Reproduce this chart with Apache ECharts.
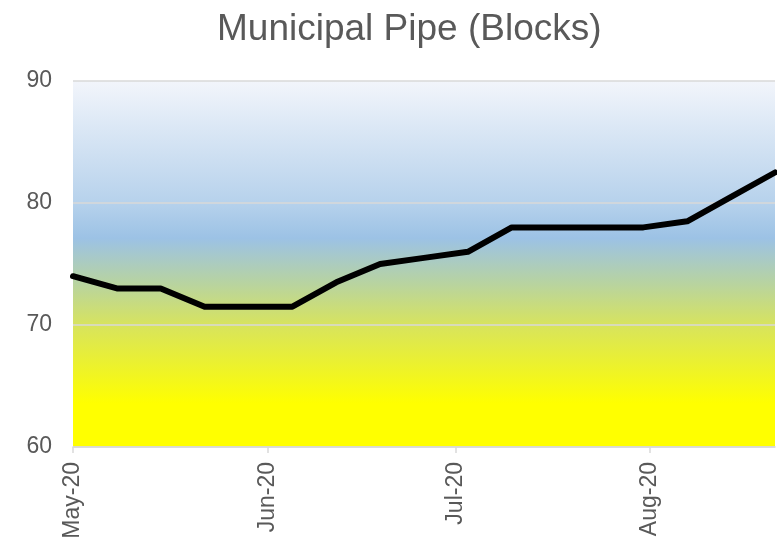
<!DOCTYPE html>
<html>
<head>
<meta charset="utf-8">
<script src="https://cdn.jsdelivr.net/npm/echarts@6/dist/echarts.min.js"></script>
<style>
html,body{margin:0;padding:0;background:#fff;}
#c{width:777px;height:542px;}
</style>
</head>
<body>
<div id="c"></div>
<script>
const titleText = 'Municipal Pipe (Blocks)';
const dates = ['2020-05-01','2020-05-08','2020-05-15','2020-05-22','2020-05-29','2020-06-05','2020-06-12','2020-06-19','2020-06-26','2020-07-03','2020-07-10','2020-07-17','2020-07-24','2020-07-31','2020-08-07','2020-08-14','2020-08-21'];
const values = [74, 73, 73, 71.5, 71.5, 71.5, 73.5, 75, 75.5, 76, 78, 78, 78, 78, 78.5, 80.5, 82.5];
const monthTicks = ['2020-05-01','2020-06-01','2020-07-01','2020-08-01'];
const monthLabels = ['May-20','Jun-20','Jul-20','Aug-20'];
const yMin = 60, yMax = 90, yStep = 10;

const DAY = 86400000;
function ts(s){ const p = s.split('-').map(Number); return Date.UTC(p[0], p[1]-1, p[2]); }
const t0 = ts(dates[0]);
function dayOf(s){ return Math.round((ts(s) - t0) / DAY); }

const tickVals = monthTicks.map(dayOf);
const chart = echarts.init(document.getElementById('c'));
chart.setOption({
  animation: false,
  title: {
    text: titleText,
    left: 212,
    top: 6,
    textStyle: {fontFamily: 'Liberation Sans, Arial, sans-serif', fontSize: 37, fontWeight: 'normal', color: '#595959'}
  },
  grid: {
    left: 73, right: 2, top: 81, bottom: 95,
    show: true, borderWidth: 0,
    backgroundColor: new echarts.graphic.LinearGradient(0, 0, 0, 1, [
      {offset: 0, color: '#f2f5fb'},
      {offset: 0.33, color: '#b7d2ec'},
      {offset: 0.43, color: '#9cc2e5'},
      {offset: 0.55, color: '#b7d3a2'},
      {offset: 0.67, color: '#d8e45c'},
      {offset: 0.88, color: '#ffff00'},
      {offset: 1, color: '#ffff00'}
    ])
  },
  xAxis: {
    type: 'value',
    min: 0,
    max: dayOf(dates[dates.length-1]),
    axisLine: {show: true, lineStyle: {color: '#d9d9d9', width: 1.5}},
    axisTick: {show: true, length: 6, lineStyle: {color: '#d9d9d9', width: 1.5}, customValues: tickVals},
    splitLine: {show: false},
    axisLabel: {
      customValues: tickVals,
      rotate: 90,
      margin: 15,
      fontFamily: 'Liberation Sans, Arial, sans-serif',
      fontSize: 23,
      color: '#595959',
      formatter: function(v){ const i = tickVals.indexOf(Math.round(v)); return i >= 0 ? monthLabels[i] : ''; }
    }
  },
  yAxis: {
    type: 'value',
    min: yMin, max: yMax, interval: yStep,
    axisLine: {show: false},
    axisTick: {show: false},
    splitLine: {show: true, lineStyle: {color: '#d9d9d9', width: 1.5}},
    axisLabel: {margin: 21, fontFamily: 'Liberation Sans, Arial, sans-serif', fontSize: 23, color: '#595959'}
  },
  series: [{
    type: 'line',
    data: dates.map((d, i) => [dayOf(d), values[i]]),
    showSymbol: false,
    symbol: 'none',
    lineStyle: {color: '#000', width: 6, join: 'round', cap: 'round'},
    z: 5
  }]
});
</script>
</body>
</html>
